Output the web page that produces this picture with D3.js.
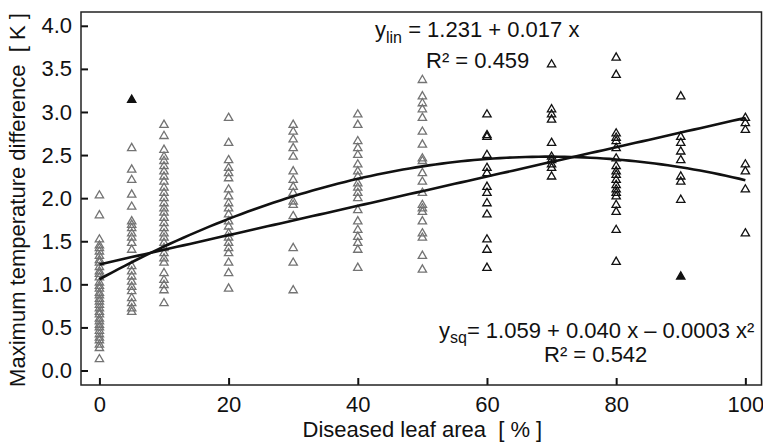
<!DOCTYPE html>
<html>
<head>
<meta charset="utf-8">
<script src="https://cdn.jsdelivr.net/npm/d3@7"></script>
<style>
  body { margin: 0; background: #fff; }
  text { font-family: "Liberation Sans", Arial, sans-serif; fill: #111; }
</style>
</head>
<body>
<div id="root"></div>
<script>
// diseased leaf area levels [%]
const levels = [0, 5, 10, 20, 30, 40, 50, 60, 70, 80, 90, 100];

// max temperature difference [K], one array per level
const t0 = [2.03, 1.80, 1.52, 1.45, 1.42, 1.38, 1.33, 1.28, 1.25, 1.20, 1.15, 1.12, 1.08, 1.02, 0.98, 0.95,
  0.90, 0.87, 0.83, 0.80, 0.76, 0.72, 0.68, 0.65, 0.60, 0.57, 0.53, 0.50, 0.46, 0.42, 0.38, 0.35, 0.30, 0.26, 0.13];
const t5 = [2.58, 2.33, 2.21, 2.04, 1.90, 1.73, 1.69, 1.65, 1.59, 1.54, 1.48, 1.40, 1.21, 1.15, 1.09, 1.03,
  0.97, 0.92, 0.84, 0.78, 0.72, 0.68];
const t10 = [2.85, 2.72, 2.56, 2.48, 2.43, 2.37, 2.31, 2.25, 2.19, 2.12, 2.06, 2.00, 1.94, 1.88, 1.83, 1.77,
  1.71, 1.65, 1.59, 1.54, 1.48, 1.42, 1.36, 1.30, 1.25, 1.13, 1.05, 0.99, 0.93, 0.78];
const t20 = [2.93, 2.64, 2.44, 2.35, 2.29, 2.23, 2.10, 2.02, 1.94, 1.88, 1.81, 1.73, 1.67, 1.59, 1.54, 1.48,
  1.42, 1.36, 1.25, 1.13, 0.95];
const t30 = [2.85, 2.77, 2.68, 2.58, 2.48, 2.31, 2.21, 2.13, 2.06, 1.96, 1.92, 1.79, 1.42, 1.25, 0.93];
const t40 = [2.97, 2.85, 2.66, 2.58, 2.50, 2.39, 2.31, 2.25, 2.17, 2.12, 2.06, 2.00, 1.86, 1.73, 1.63, 1.55,
  1.48, 1.40, 1.19];
const t50 = [3.37, 3.18, 3.10, 3.03, 2.93, 2.77, 2.62, 2.46, 2.43, 2.29, 2.19, 2.06, 1.92, 1.88, 1.84, 1.73,
  1.59, 1.54, 1.33, 1.17];
const t60 = [2.97, 2.73, 2.71, 2.50, 2.35, 2.29, 2.13, 2.06, 1.94, 1.81, 1.52, 1.40, 1.19];
const t70 = [3.55, 3.03, 2.97, 2.91, 2.64, 2.48, 2.44, 2.39, 2.35, 2.25];
const t80 = [3.63, 3.43, 2.75, 2.70, 2.66, 2.58, 2.46, 2.37, 2.31, 2.27, 2.21, 2.15, 2.10, 2.06, 2.02, 1.92,
  1.84, 1.63, 1.26];
const t90 = [3.18, 2.71, 2.64, 2.54, 2.44, 2.25, 2.19, 1.98];
const t100 = [2.93, 2.87, 2.79, 2.39, 2.31, 2.10, 1.59];
const tempByLevel = [t0, t5, t10, t20, t30, t40, t50, t60, t70, t80, t90, t100];

// outliers drawn as filled triangles [level, temp]
const filledPoints = [[5, 3.14], [90, 1.09]];

// regression curves: y = c0 + c1 x (+ c2 x^2)
const linCoef = [1.231, 0.017];
const sqCoef = [1.059, 0.0409, -0.000294];

const xTicks = [0, 20, 40, 60, 80, 100];
const yTicks = [0, 0.5, 1, 1.5, 2, 2.5, 3, 3.5, 4];

const margin = { left: 81, right: 1.5, top: 12, bottom: 58 };
const width = 763 - margin.left - margin.right;
const height = 443 - margin.top - margin.bottom;
const fontSize = '22px';

const svg = d3.select('#root').append('svg')
  .attr('width', 763)
  .attr('height', 443);

const g = svg.append('g')
  .attr('transform', `translate(${margin.left}, ${margin.top})`);

const x = d3.scaleLinear().domain([-2.85, 102.5]).range([0, width]);
const y = d3.scaleLinear().domain([-0.168, 4.16]).range([height, 0]);

// axes with inward ticks
const xAxis = d3.axisBottom(x).tickValues(xTicks).tickSizeInner(-7).tickSizeOuter(0).tickPadding(11);
const yAxis = d3.axisLeft(y).tickValues(yTicks).tickFormat(d3.format('.1f'))
  .tickSizeInner(-7).tickSizeOuter(0).tickPadding(9);

const gx = g.append('g').attr('transform', `translate(0, ${height})`).call(xAxis);
const gy = g.append('g').call(yAxis);
[gx, gy].forEach((a) => {
  a.select('.domain').remove();
  a.selectAll('line').attr('stroke', '#111').attr('stroke-width', 2);
  a.selectAll('text').attr('font-size', fontSize).attr('fill', '#111')
    .attr('font-family', '"Liberation Sans", Arial, sans-serif');
});

// frame
g.append('rect')
  .attr('width', width).attr('height', height)
  .attr('fill', 'none').attr('stroke', '#222').attr('stroke-width', 1.5);

// points
const points = [];
levels.forEach((lv, i) => tempByLevel[i].forEach((t) => points.push({ x: lv, y: t })));

const tri = d3.symbol().type(d3.symbolTriangle).size(30);

g.append('g').selectAll('path').data(points)
  .enter().append('path')
    .attr('d', tri)
    .attr('transform', (d) => `translate(${x(d.x)}, ${y(d.y)})`)
    .attr('fill', 'none')
    .attr('stroke', (d) => (d.x <= 50 ? '#737373' : '#111'))
    .attr('stroke-width', 1.3);

g.append('g').selectAll('path').data(filledPoints)
  .enter().append('path')
    .attr('d', tri)
    .attr('transform', (d) => `translate(${x(d[0])}, ${y(d[1])})`)
    .attr('fill', '#111')
    .attr('stroke', '#111')
    .attr('stroke-width', 1.3);

// fitted lines
const xs = d3.range(0, 100.5, 1);
const poly = (c) => (v) => c.reduce((s, k, i) => s + k * Math.pow(v, i), 0);
const line = d3.line().x((d) => x(d[0])).y((d) => y(d[1]));

[linCoef, sqCoef].forEach((c) => {
  const f = poly(c);
  g.append('path')
    .datum(xs.map((v) => [v, f(v)]))
    .attr('d', line)
    .attr('fill', 'none')
    .attr('stroke', '#111')
    .attr('stroke-width', 2.6);
});

// equations
const eqLin = svg.append('text').attr('x', 375).attr('y', 37).attr('font-size', fontSize);
eqLin.append('tspan').text('y');
eqLin.append('tspan').attr('dy', 6).attr('font-size', '16px').text('lin');
eqLin.append('tspan').attr('dy', -6).text(' = 1.231 + 0.017 x');

svg.append('text').attr('x', 426).attr('y', 68).attr('font-size', fontSize).text('R² = 0.459');

const eqSq = svg.append('text').attr('x', 439).attr('y', 338).attr('font-size', fontSize);
eqSq.append('tspan').text('y');
eqSq.append('tspan').attr('dy', 5).attr('font-size', '16px').text('sq');
eqSq.append('tspan').attr('dy', -5).text('= 1.059 + 0.040 x – 0.0003 x²');

svg.append('text').attr('x', 544).attr('y', 362).attr('font-size', fontSize).text('R² = 0.542');

// axis titles
svg.append('text')
  .attr('x', margin.left + x(50))
  .attr('y', 437)
  .attr('text-anchor', 'middle')
  .attr('font-size', fontSize)
  .style('white-space', 'pre')
  .text('Diseased leaf area  [ % ]');

svg.append('text')
  .attr('transform', 'rotate(-90)')
  .attr('x', -200)
  .attr('y', 25)
  .attr('text-anchor', 'middle')
  .attr('font-size', fontSize)
  .style('white-space', 'pre')
  .text('Maximum temperature difference  [ K ]');
</script>
</body>
</html>
